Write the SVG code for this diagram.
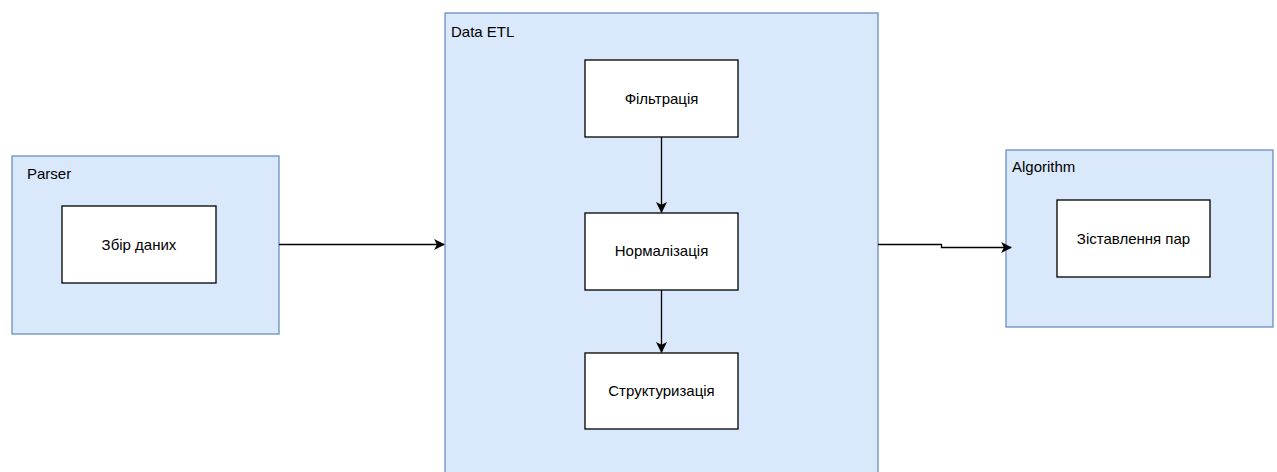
<svg xmlns="http://www.w3.org/2000/svg" width="1277" height="472" viewBox="0 0 1277 472">
  <defs>
    <style>
      .container { fill: #dae8fc; stroke: #6c8ebf; stroke-width: 1.3; }
      .box { fill: #ffffff; stroke: #000000; stroke-width: 1.3; }
      .label { font-family: "Liberation Sans", Arial, sans-serif; font-size: 15px; fill: #000000; }
      .center { text-anchor: middle; }
      .edge { fill: none; stroke: #000000; stroke-width: 1.3; }
    </style>
    <marker id="arrow" viewBox="0 0 10 10" refX="9" refY="5" markerWidth="11" markerHeight="11" markerUnits="userSpaceOnUse" orient="auto">
      <path d="M0,0 L10,5 L0,10 L2.5,5 Z" fill="#000000"/>
    </marker>
  </defs>

  <rect width="1277" height="472" fill="#ffffff"/>

  <!-- Parser stage -->
  <g id="parser">
    <rect class="container" x="12" y="156" width="267" height="178"/>
    <text class="label" x="27" y="179">Parser</text>
  </g>
  <g id="collect">
    <rect class="box" x="62" y="206" width="154" height="77"/>
    <text class="label center" x="139" y="250">Збір даних</text>
  </g>

  <!-- ETL stage -->
  <g id="etl">
    <rect class="container" x="445" y="13" width="433" height="470"/>
    <text class="label" x="451" y="37">Data ETL</text>
  </g>
  <g id="filter">
    <rect class="box" x="585" y="60" width="153" height="77"/>
    <text class="label center" x="661.5" y="104">Фільтрація</text>
  </g>
  <g id="normalize">
    <rect class="box" x="585" y="213" width="153" height="77"/>
    <text class="label center" x="661.5" y="256">Нормалізація</text>
  </g>
  <g id="structure">
    <rect class="box" x="585" y="353" width="153" height="76"/>
    <text class="label center" x="661.5" y="396">Структуризація</text>
  </g>

  <!-- Algorithm stage -->
  <g id="algorithm">
    <rect class="container" x="1006" y="150" width="267" height="177"/>
    <text class="label" x="1012" y="172">Algorithm</text>
  </g>
  <g id="matching">
    <rect class="box" x="1057" y="200" width="153" height="77"/>
    <text class="label center" x="1133.5" y="244">Зіставлення пар</text>
  </g>

  <!-- Connectors -->
  <g id="connectors">
    <path class="edge" d="M279,244.5 L444,244.5" marker-end="url(#arrow)"/>
    <path class="edge" d="M661.5,137 L661.5,212" marker-end="url(#arrow)"/>
    <path class="edge" d="M661.5,290 L661.5,352" marker-end="url(#arrow)"/>
    <path class="edge" d="M878,244.5 L941.5,244.5 L941.5,247.5 L1011,247.5" marker-end="url(#arrow)"/>
  </g>
</svg>
